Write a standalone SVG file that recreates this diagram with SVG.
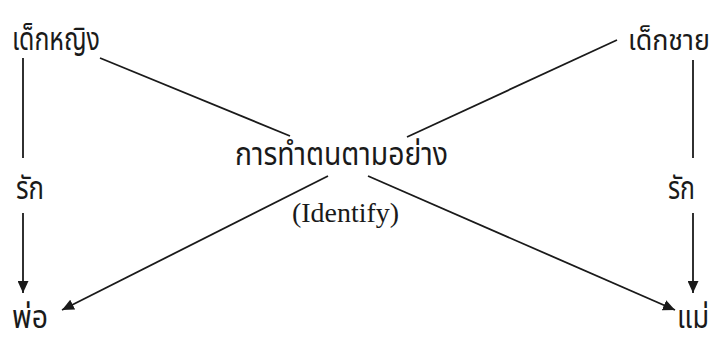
<svg xmlns="http://www.w3.org/2000/svg" width="714" height="341" viewBox="0 0 714 341">
<style>
.th{font-family:"Noto Sans Thai","Noto Sans","DejaVu Sans",sans-serif;font-size:32px;fill:#1a1a1a}
.en{font-family:"Liberation Serif",serif;font-size:27px;fill:#1a1a1a}
.ln{stroke:#1a1a1a;stroke-width:1.8;fill:none}
</style>
<defs>
<marker id="ah" markerUnits="userSpaceOnUse" markerWidth="13" markerHeight="11" refX="12" refY="5.5" orient="auto">
<path d="M0,0 L12,5.5 L0,11 z" fill="#1a1a1a"/>
</marker>
</defs>
<rect width="714" height="341" fill="#ffffff"/>
<g id="connectors">
<line class="ln" x1="100" y1="58" x2="290" y2="136"/>
<line class="ln" x1="617" y1="40" x2="407" y2="137"/>
<line class="ln" x1="328" y1="176" x2="62" y2="310" marker-end="url(#ah)"/>
<line class="ln" x1="368" y1="176" x2="675" y2="310" marker-end="url(#ah)"/>
<line class="ln" x1="23" y1="58" x2="23" y2="158"/>
<line class="ln" x1="23" y1="213" x2="23" y2="293" marker-end="url(#ah)"/>
<line class="ln" x1="693" y1="60" x2="693" y2="158"/>
<line class="ln" x1="693" y1="213" x2="693" y2="293" marker-end="url(#ah)"/>
</g>
<g id="girl"><text class="th" x="12" y="50" textLength="88" lengthAdjust="spacingAndGlyphs">เด็กหญิง</text></g>
<g id="boy"><text class="th" x="628" y="50" style="font-size:28px" textLength="82" lengthAdjust="spacingAndGlyphs">เด็กชาย</text></g>
<g id="identify"><text class="th" x="235" y="165" textLength="213" lengthAdjust="spacingAndGlyphs">การทำตนตามอย่าง</text>
<text class="en" x="292" y="222" textLength="107" lengthAdjust="spacingAndGlyphs">(Identify)</text></g>
<g id="love-left"><text class="th" x="16" y="199" textLength="28" lengthAdjust="spacingAndGlyphs">รัก</text></g>
<g id="love-right"><text class="th" x="668" y="199" textLength="27" lengthAdjust="spacingAndGlyphs">รัก</text></g>
<g id="father"><text class="th" x="12" y="328" textLength="36" lengthAdjust="spacingAndGlyphs">พ่อ</text></g>
<g id="mother"><text class="th" x="677" y="328" textLength="32" lengthAdjust="spacingAndGlyphs">แม่</text></g>
</svg>
